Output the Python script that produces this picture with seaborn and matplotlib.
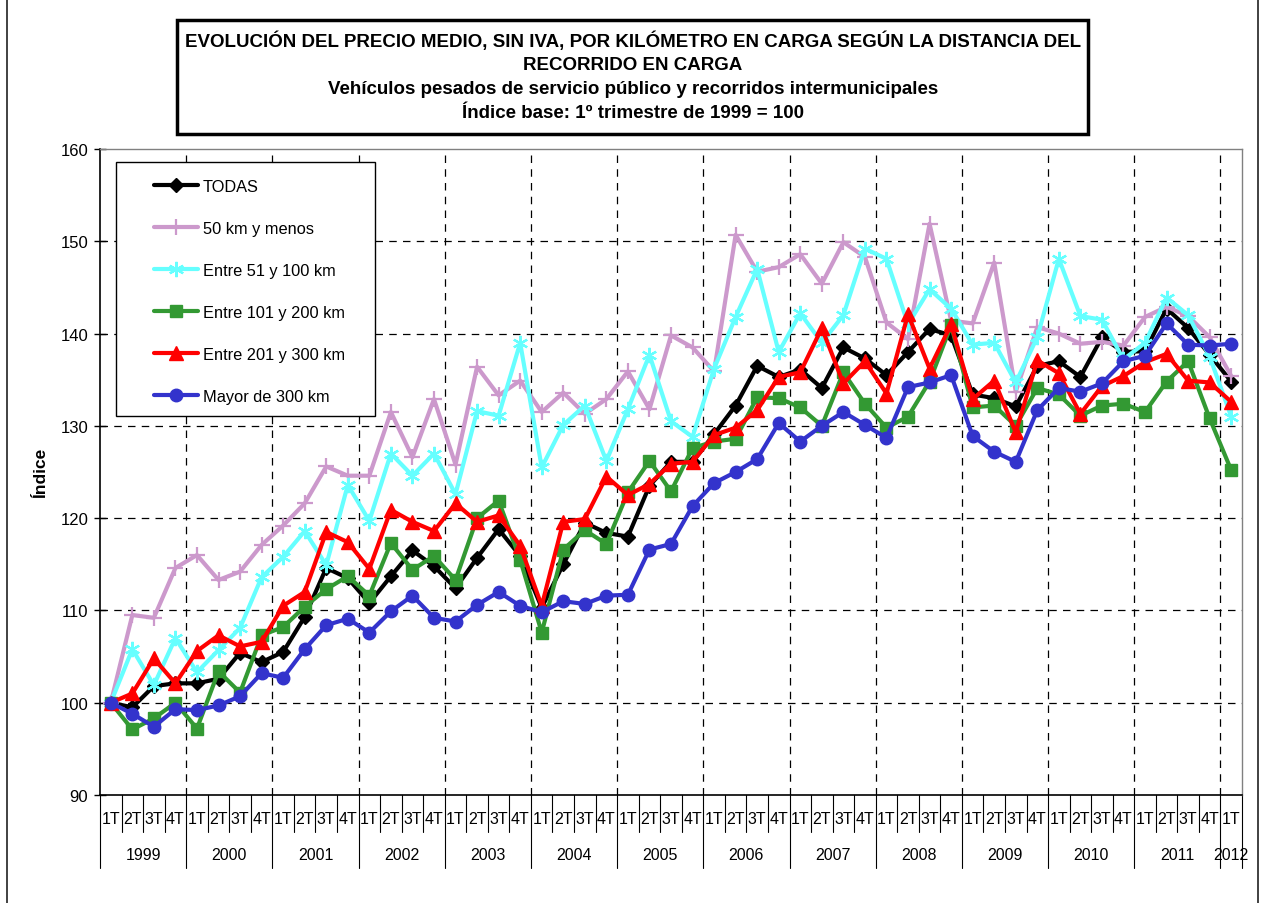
import numpy as np
import pandas as pd
import seaborn as sns
import matplotlib.pyplot as plt
from matplotlib.patches import Rectangle
from matplotlib.lines import Line2D

sns.set_style("white")
plt.rcParams['font.family'] = ['Liberation Sans', 'DejaVu Sans']
plt.rcParams['text.color'] = 'black'
plt.rcParams['axes.labelcolor'] = 'black'
plt.rcParams['ytick.color'] = 'black'

# ---- data ----
years = ['1999', '2000', '2001', '2002', '2003', '2004', '2005',
         '2006', '2007', '2008', '2009', '2010', '2011', '2012']
quarters = ['1T', '2T', '3T', '4T']

todas = [100, 99.5, 101.8, 102.1, 102.1, 102.6, 105.4, 104.4, 105.5, 109.3,
         114.6, 113.5, 110.8, 113.7, 116.5, 114.8, 112.4, 115.7, 118.8, 115.9,
         110.3, 115.0, 119.5, 118.4, 118.0, 123.5, 126.1, 126.1, 129.1, 132.2,
         136.5, 135.3, 136.1, 134.1, 138.5, 137.3, 135.5, 138.0, 140.5, 139.8,
         133.4, 133.0, 132.1, 136.5, 137.0, 135.3, 139.6, 138.0, 138.1, 142.7,
         140.6, 137.7, 134.8]
km50 = [100, 109.5, 109.2, 114.6, 116.0, 113.3, 114.2, 117.1, 119.2, 121.6,
        125.6, 124.6, 124.6, 131.5, 126.6, 132.9, 125.8, 136.4, 133.3, 134.9,
        131.5, 133.6, 131.3, 132.9, 135.9, 131.8, 139.8, 138.5, 135.9, 150.7,
        146.7, 147.2, 148.6, 145.4, 149.9, 148.3, 141.2, 139.4, 151.9, 141.4,
        141.1, 147.7, 133.7, 140.7, 140.0, 138.9, 139.1, 138.7, 141.8, 142.9,
        141.9, 139.6, 135.4]
km51_100 = [100, 105.8, 101.9, 107.0, 103.3, 105.7, 108.1, 113.6, 115.8, 118.6,
            114.9, 123.6, 119.7, 127.0, 124.6, 127.0, 122.6, 131.6, 131.1, 139.0,
            125.5, 130.1, 132.2, 126.2, 131.8, 137.7, 130.5, 128.8, 136.2, 141.8,
            147.0, 138.0, 142.2, 139.0, 142.0, 149.2, 148.1, 141.0, 144.8, 142.7,
            138.8, 139.0, 134.7, 139.6, 148.1, 141.9, 141.5, 137.2, 139.0, 143.9,
            142.0, 137.5, 131.0]
km101_200 = [100, 97.1, 98.3, 100.0, 97.2, 103.4, 101.1, 107.3, 108.2, 110.4,
             112.3, 113.7, 111.6, 117.3, 114.4, 115.9, 113.3, 120.0, 121.9, 115.5,
             107.6, 116.6, 118.7, 117.2, 122.8, 126.2, 122.9, 127.6, 128.3, 128.6,
             133.1, 133.0, 132.0, 130.0, 135.8, 132.4, 129.8, 131.0, 134.8, 140.9,
             132.0, 132.2, 130.0, 134.1, 133.4, 131.1, 132.2, 132.4, 131.5, 134.8,
             137.0, 130.8, 125.2]
km201_300 = [100, 101.0, 104.8, 102.1, 105.6, 107.3, 106.1, 106.6, 110.5, 112.0,
             118.5, 117.4, 114.5, 120.9, 119.6, 118.6, 121.6, 119.6, 120.3, 117.0,
             110.5, 119.6, 119.9, 124.5, 122.5, 123.7, 125.9, 126.1, 129.0, 129.8,
             131.7, 135.3, 135.8, 140.6, 134.6, 137.0, 133.5, 142.1, 136.2, 141.0,
             132.9, 134.9, 129.3, 137.1, 135.7, 131.3, 134.3, 135.4, 136.9, 137.8,
             134.9, 134.7, 132.6]
mayor300 = [100, 98.8, 97.4, 99.3, 99.2, 99.7, 100.7, 103.2, 102.7, 105.8,
            108.4, 109.1, 107.6, 109.9, 111.6, 109.2, 108.8, 110.6, 112.0, 110.5,
            109.8, 111.0, 110.7, 111.6, 111.7, 116.6, 117.2, 121.3, 123.8, 125.0,
            126.4, 130.3, 128.3, 130.0, 131.5, 130.1, 128.7, 134.2, 134.7, 135.5,
            128.9, 127.2, 126.1, 131.7, 134.1, 133.7, 134.6, 137.0, 137.6, 141.1,
            138.8, 138.7, 138.9]

series = [
    ('TODAS', todas, 'black', 'D', 7, 1.0),
    ('50 km y menos', km50, '#CC99CC', '+', 11, 1.6),
    ('Entre 51 y 100 km', km51_100, '#66FFFF', (6, 2, 0), 11, 1.6),
    ('Entre 101 y 200 km', km101_200, '#339933', 's', 8.5, 1.0),
    ('Entre 201 y 300 km', km201_300, '#FF0000', '^', 10, 1.0),
    ('Mayor de 300 km', mayor300, '#3333CC', 'o', 9, 1.0),
]

n = len(todas)
xpos = np.arange(n)

W, H = 1263, 904
fig = plt.figure(figsize=(W / 100, H / 100), dpi=100)
ax = fig.add_axes([100 / W, 1 - 796 / H, 1142 / W, 646 / H])

for name, vals, col, mk, ms, mew in series:
    sns.lineplot(x=xpos, y=vals, ax=ax, color=col, marker=mk, markersize=ms,
                 markeredgecolor=col, markerfacecolor=col, markeredgewidth=mew,
                 linewidth=3, label=name, legend=False)

ax.set_xlim(-0.5, n - 0.5)
ax.set_ylim(90, 160)
ax.set_yticks(range(90, 161, 10))
ax.tick_params(axis='y', direction='inout', length=9, width=1, labelsize=12,
               color='black', left=True, pad=4)
ax.set_xticks([])
ax.set_ylabel('Índice', fontsize=12.5, fontweight='bold', labelpad=9)

# grid lines
for v in range(100, 160, 10):
    ax.axhline(v, color='black', lw=0.9, ls=(0, (6, 5)), zorder=0.5)
for k in range(4, n, 4):
    ax.axvline(k - 0.5, color='black', lw=0.9, ls=(0, (6, 5)), zorder=0.5)

for s in ['top', 'right']:
    ax.spines[s].set_color('#808080')
    ax.spines[s].set_linewidth(1)
for s in ['left', 'bottom']:
    ax.spines[s].set_color('black')
    ax.spines[s].set_linewidth(1.2)

# category axis: quarters and years
tr = ax.get_xaxis_transform()
for i in range(n):
    ax.text(i, -0.037, quarters[i % 4], transform=tr, ha='center', va='center',
            fontsize=11.5, clip_on=False)
for k in range(n + 1):
    length = 0.113 if (k % 4 == 0 or k == n) else 0.058
    ax.add_line(Line2D([k - 0.5, k - 0.5], [0, -length], transform=tr,
                       color='black', lw=0.8, clip_on=False))
for j, yr in enumerate(years):
    start = 4 * j
    end = min(start + 4, n)
    ax.text((start + end - 1) / 2, -0.092, yr, transform=tr, ha='center',
            va='center', fontsize=11.5, clip_on=False)

# legend with its own frame
handles, labels = ax.get_legend_handles_labels()
leg = fig.legend(handles, labels, loc='upper left',
                 bbox_to_anchor=(146 / W, 1 - 172 / H), frameon=False,
                 fontsize=11.8, handlelength=2.7, handletextpad=0.25,
                 labelspacing=1.64, borderpad=0)
fig.add_artist(Rectangle((116 / W, 1 - 417 / H), 259 / W, 254 / H,
                         transform=fig.transFigure, fill=True, facecolor='white',
                         edgecolor='black', lw=1, zorder=2))
leg.set_zorder(3)

# title box
fig.add_artist(Rectangle((177 / W, 1 - 135 / H), 911 / W, 114 / H,
                         transform=fig.transFigure, fill=False,
                         edgecolor='black', lw=2.5))
title_lines = [
    ('EVOLUCIÓN DEL PRECIO MEDIO, SIN IVA, POR KILÓMETRO EN CARGA SEGÚN LA DISTANCIA DEL', 41),
    ('RECORRIDO EN CARGA', 65),
    ('Vehículos pesados de servicio público y recorridos intermunicipales', 89),
    ('Índice base: 1º trimestre de 1999 = 100', 113),
]
for txt, ypix in title_lines:
    fig.text(633 / W, 1 - ypix / H, txt, ha='center', va='center',
             fontsize=13.5, fontweight='bold')

# outer frame (left and right sides only visible in the picture)
fig.add_artist(Rectangle((7 / W, -0.05), 1251 / W, 1.1,
                         transform=fig.transFigure, fill=False,
                         edgecolor='#333333', lw=1.3))

fig.savefig('out.png', dpi=100)
